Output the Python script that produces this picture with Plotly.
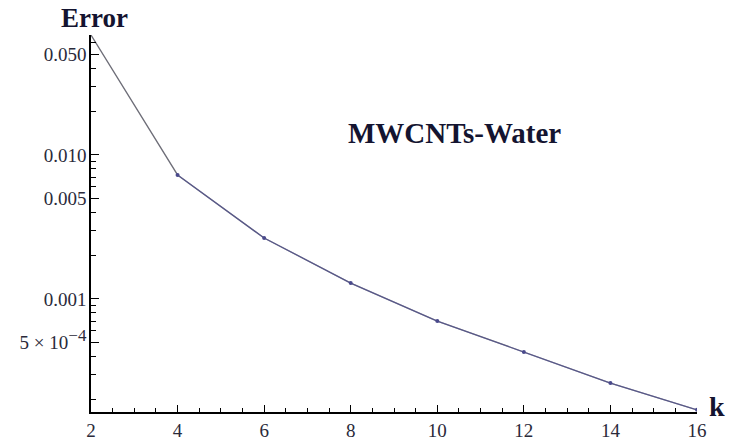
import plotly.graph_objects as go
import numpy as np

k_vals = [2, 4, 6, 8, 10, 12, 14, 16]
error_vals = [0.068, 0.00726, 0.00265, 0.00129, 0.000703, 0.000428, 0.000261, 0.000170]

x_tickvals = [2, 4, 6, 8, 10, 12, 14, 16]
x_ticktext = ["2", "4", "6", "8", "10", "12", "14", "16"]
y_tickvals = [0.05, 0.01, 0.005, 0.001, 0.0005]
y_ticktext = ["0.050", "0.010", "0.005", "0.001",
              "5 \u00d7 10<sup><span style='font-size:17px'>\u22124</span></sup>"]
y_minorvals = [0.02, 0.03, 0.04, 0.06, 0.004, 0.006, 0.007, 0.008, 0.009,
               0.002, 0.003, 0.0006, 0.0007, 0.0008, 0.0009, 0.0002, 0.0003, 0.0004]
x_minorvals = [v for v in np.arange(2, 16.01, 0.5) if v % 2 != 0]

serif = "Liberation Serif"

fig = go.Figure()
fig.add_trace(go.Scatter(
    x=k_vals, y=error_vals, mode="lines",
    line=dict(color="#6e6e78", width=1.3), showlegend=False))
fig.add_trace(go.Scatter(
    x=k_vals[1:], y=error_vals[1:], mode="lines+markers",
    line=dict(color="rgba(70,70,150,0.55)", width=1.3),
    marker=dict(color="#4a4a8c", size=4), showlegend=False))

fig.update_layout(
    width=732, height=444,
    margin=dict(l=91, r=35, t=35, b=32),
    paper_bgcolor="white", plot_bgcolor="white",
    xaxis=dict(
        range=[2, 16], tickmode="array", tickvals=x_tickvals, ticktext=x_ticktext,
        ticks="inside", ticklen=7, tickwidth=1.2, tickcolor="black",
        showline=True, linecolor="black", linewidth=1.6, showgrid=False, zeroline=False,
        automargin=False, ticklabelstandoff=0,
        tickfont=dict(family=serif, size=19, color="#2a2a3a"),
        minor=dict(tickvals=x_minorvals, ticks="inside", ticklen=4, tickwidth=1, tickcolor="black", showgrid=False),
    ),
    yaxis=dict(
        type="log", range=[np.log10(error_vals[-1]) - 0.015, np.log10(error_vals[0])],
        tickmode="array", tickvals=y_tickvals, ticktext=y_ticktext,
        ticks="inside", ticklen=8, tickwidth=1.2, tickcolor="black",
        showline=True, linecolor="black", linewidth=1.6, showgrid=False, zeroline=False,
        automargin=False, ticklabelstandoff=-1,
        tickfont=dict(family=serif, size=19, color="#2a2a3a"),
        minor=dict(tickvals=y_minorvals, ticks="inside", ticklen=5, tickwidth=1, tickcolor="black", showgrid=False),
    ),
    annotations=[
        dict(text="<b>Error</b>", xref="paper", yref="paper", x=0.006, y=1.0,
             xanchor="center", yanchor="bottom", yshift=0, showarrow=False,
             font=dict(family=serif, size=27, color="#141430")),
        dict(text="<b>k</b>", xref="paper", yref="paper", x=1.0, y=0.0,
             xanchor="left", yanchor="middle", xshift=10, yshift=6, showarrow=False,
             font=dict(family=serif, size=28, color="#141430")),
        dict(text="<b>MWCNTs-Water</b>", x=10.4, y=np.log10(0.0141), xref="x", yref="y",
             xanchor="center", yanchor="middle", showarrow=False,
             font=dict(family=serif, size=29, color="#141430")),
    ],
)

fig.write_html("out.html")
